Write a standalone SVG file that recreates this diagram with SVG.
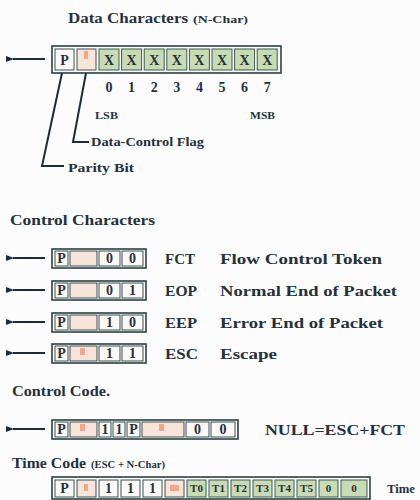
<svg xmlns="http://www.w3.org/2000/svg" width="420" height="500" viewBox="0 0 420 500">
<defs>
<marker id="ah" markerWidth="8" markerHeight="6" refX="1" refY="3" orient="auto" markerUnits="userSpaceOnUse">
<path d="M8,0 L0,3 L8,6 z" fill="#1e2c38"/>
</marker>
<style>
text{font-family:"Liberation Serif","DejaVu Serif",serif;font-weight:bold;fill:#24313c}
.t{font-size:15px}
.s{font-size:10px}
.c{font-size:14px;text-anchor:middle}
.o{fill:#fff;stroke:#2a4042;stroke-width:1.6}
.w{fill:#fbf8f6;stroke:#3a5050;stroke-width:1}
.p{fill:#f9e4da;stroke:#3a5050;stroke-width:1}
.g{fill:#c8dbb3;stroke:#3a5a52;stroke-width:1}
.m{fill:#f2a68c}
.ln{stroke:#1e2c38;stroke-width:2;fill:none}
</style>
</defs>
<rect width="420" height="500" fill="#fdfcfc"/>

<g id="title-data"><text x="68" y="23" class="t" textLength="120" lengthAdjust="spacingAndGlyphs">Data Characters</text><text x="193" y="23" class="s" textLength="55" lengthAdjust="spacingAndGlyphs">(N-Char)</text></g>

<g id="data-char">
<rect x="52" y="46" width="229" height="27" class="o"/>
<rect x="55" y="49" width="19" height="21" class="w"/>
<text x="64.5" y="65" class="c">P</text>
<rect x="77" y="49" width="19" height="21" class="p"/>
<rect x="84" y="51" width="4" height="8" class="m"/>
<rect x="99" y="49" width="20" height="21" class="g"/><text x="109" y="65" class="c">X</text>
<rect x="121.6" y="49" width="20" height="21" class="g"/><text x="131.6" y="65" class="c">X</text>
<rect x="144.2" y="49" width="20" height="21" class="g"/><text x="154.2" y="65" class="c">X</text>
<rect x="166.8" y="49" width="20" height="21" class="g"/><text x="176.8" y="65" class="c">X</text>
<rect x="189.4" y="49" width="20" height="21" class="g"/><text x="199.4" y="65" class="c">X</text>
<rect x="212" y="49" width="20" height="21" class="g"/><text x="222" y="65" class="c">X</text>
<rect x="234.6" y="49" width="20" height="21" class="g"/><text x="244.6" y="65" class="c">X</text>
<rect x="257.2" y="49" width="20" height="21" class="g"/><text x="267.2" y="65" class="c">X</text>
<text x="109" y="92" class="c">0</text>
<text x="131.6" y="92" class="c">1</text>
<text x="154.2" y="92" class="c">2</text>
<text x="176.8" y="92" class="c">3</text>
<text x="199.4" y="92" class="c">4</text>
<text x="222" y="92" class="c">5</text>
<text x="244.6" y="92" class="c">6</text>
<text x="267.2" y="92" class="c">7</text>
<text x="95" y="119" style="font-size:11px" textLength="23" lengthAdjust="spacingAndGlyphs">LSB</text>
<text x="250" y="119" style="font-size:11px" textLength="25" lengthAdjust="spacingAndGlyphs">MSB</text>
<text x="91" y="146" style="font-size:12px" textLength="113" lengthAdjust="spacingAndGlyphs">Data-Control Flag</text>
<text x="68" y="172" style="font-size:12px" textLength="66" lengthAdjust="spacingAndGlyphs">Parity Bit</text>
</g>

<g id="title-control"><text x="10" y="225" class="t" textLength="145" lengthAdjust="spacingAndGlyphs">Control Characters</text></g>

<g id="fct">
<rect x="52" y="249" width="94" height="19" class="o"/>
<rect x="55" y="251" width="13" height="15" class="w"/><text x="61.5" y="263" class="c">P</text>
<rect x="70" y="251" width="27" height="15" class="p"/>
<rect x="99" y="251" width="21" height="15" class="w"/><text x="109.5" y="263" class="c">0</text>
<rect x="122" y="251" width="21" height="15" class="w"/><text x="132.5" y="263" class="c">0</text>
<text x="165" y="264" class="t" textLength="30" lengthAdjust="spacingAndGlyphs">FCT</text>
<text x="220" y="264" class="t" textLength="162" lengthAdjust="spacingAndGlyphs">Flow Control Token</text>
</g>
<g id="eop">
<rect x="52" y="281" width="94" height="19" class="o"/>
<rect x="55" y="283" width="13" height="15" class="w"/><text x="61.5" y="295" class="c">P</text>
<rect x="70" y="283" width="27" height="15" class="p"/>
<rect x="99" y="283" width="21" height="15" class="w"/><text x="109.5" y="295" class="c">0</text>
<rect x="122" y="283" width="21" height="15" class="w"/><text x="132.5" y="295" class="c">1</text>
<text x="165" y="296" class="t" textLength="32" lengthAdjust="spacingAndGlyphs">EOP</text>
<text x="220" y="296" class="t" textLength="177" lengthAdjust="spacingAndGlyphs">Normal End of Packet</text>
</g>
<g id="eep">
<rect x="52" y="313" width="94" height="19" class="o"/>
<rect x="55" y="315" width="13" height="15" class="w"/><text x="61.5" y="327" class="c">P</text>
<rect x="70" y="315" width="27" height="15" class="p"/>
<rect x="99" y="315" width="21" height="15" class="w"/><text x="109.5" y="327" class="c">1</text>
<rect x="122" y="315" width="21" height="15" class="w"/><text x="132.5" y="327" class="c">0</text>
<text x="165" y="328" class="t" textLength="32" lengthAdjust="spacingAndGlyphs">EEP</text>
<text x="220" y="328" class="t" textLength="163" lengthAdjust="spacingAndGlyphs">Error End of Packet</text>
</g>
<g id="esc">
<rect x="52" y="344" width="94" height="19" class="o"/>
<rect x="55" y="346" width="13" height="15" class="w"/><text x="61.5" y="358" class="c">P</text>
<rect x="70" y="346" width="27" height="15" class="p"/>
<rect x="80" y="348" width="5" height="7" class="m"/>
<rect x="99" y="346" width="21" height="15" class="w"/><text x="109.5" y="358" class="c">1</text>
<rect x="122" y="346" width="21" height="15" class="w"/><text x="132.5" y="358" class="c">1</text>
<text x="165" y="359" class="t" textLength="33" lengthAdjust="spacingAndGlyphs">ESC</text>
<text x="220" y="359" class="t" textLength="57" lengthAdjust="spacingAndGlyphs">Escape</text>
</g>

<g id="title-code"><text x="12" y="396" class="t" textLength="98" lengthAdjust="spacingAndGlyphs">Control Code.</text></g>

<g id="null">
<rect x="52" y="420" width="186" height="19" class="o"/>
<rect x="55" y="422" width="13" height="15" class="w"/><text x="61.5" y="434" class="c">P</text>
<rect x="70" y="422" width="27" height="15" class="p"/>
<rect x="80" y="424" width="5" height="7" class="m"/>
<rect x="99" y="422" width="12" height="15" class="w"/><text x="105" y="434" class="c">1</text>
<rect x="113" y="422" width="12" height="15" class="w"/><text x="119" y="434" class="c">1</text>
<rect x="127" y="422" width="13" height="15" class="w"/><text x="133.5" y="434" class="c">P</text>
<rect x="142" y="422" width="42" height="15" class="p"/>
<rect x="159" y="424" width="5" height="7" class="m"/>
<rect x="186" y="422" width="23" height="15" class="w"/><text x="197.5" y="434" class="c">0</text>
<rect x="211" y="422" width="24" height="15" class="w"/><text x="223" y="434" class="c">0</text>
<text x="265" y="435" class="t" textLength="140" lengthAdjust="spacingAndGlyphs">NULL=ESC+FCT</text>
</g>

<g id="title-time"><text x="12" y="468" class="t" textLength="74" lengthAdjust="spacingAndGlyphs">Time Code</text><text x="91" y="468" class="s" textLength="74" lengthAdjust="spacingAndGlyphs">(ESC + N-Char)</text></g>

<g id="time">
<rect x="52" y="477" width="318" height="22" class="o"/>
<rect x="55" y="480" width="19" height="17" class="w"/><text x="64.5" y="493" class="c">P</text>
<rect x="77" y="480" width="19" height="17" class="p"/>
<rect x="84" y="484" width="4" height="7" class="m"/>
<rect x="99" y="480" width="19" height="17" class="w"/><text x="108.5" y="493" class="c">1</text>
<rect x="121" y="480" width="19" height="17" class="w"/><text x="130.5" y="493" class="c">1</text>
<rect x="143" y="480" width="19" height="17" class="w"/><text x="152.5" y="493" class="c">1</text>
<rect x="165" y="480" width="19" height="17" class="p"/>
<rect x="170" y="485" width="9" height="6" class="m"/>
<rect x="187" y="480" width="19" height="17" class="g"/><text x="196.5" y="492" class="c" style="font-size:11px">T0</text>
<rect x="209" y="480" width="19" height="17" class="g"/><text x="218.5" y="492" class="c" style="font-size:11px">T1</text>
<rect x="231" y="480" width="19" height="17" class="g"/><text x="240.5" y="492" class="c" style="font-size:11px">T2</text>
<rect x="253" y="480" width="19" height="17" class="g"/><text x="262.5" y="492" class="c" style="font-size:11px">T3</text>
<rect x="275" y="480" width="19" height="17" class="g"/><text x="284.5" y="492" class="c" style="font-size:11px">T4</text>
<rect x="297" y="480" width="19" height="17" class="g"/><text x="306.5" y="492" class="c" style="font-size:11px">T5</text>
<rect x="319" y="480" width="19" height="17" class="g"/><text x="328.5" y="492" class="c" style="font-size:11px">0</text>
<rect x="341" y="480" width="26" height="17" class="g"/><text x="354" y="492" class="c" style="font-size:11px">0</text>
<text x="387" y="493" style="font-size:12px" textLength="28" lengthAdjust="spacingAndGlyphs">Time</text>
</g>

<g id="connectors">
<line x1="45" y1="59" x2="13" y2="59" class="ln" marker-end="url(#ah)"/>
<line x1="45" y1="258" x2="13" y2="258" class="ln" marker-end="url(#ah)"/>
<line x1="45" y1="290" x2="13" y2="290" class="ln" marker-end="url(#ah)"/>
<line x1="45" y1="322" x2="13" y2="322" class="ln" marker-end="url(#ah)"/>
<line x1="45" y1="353" x2="13" y2="353" class="ln" marker-end="url(#ah)"/>
<line x1="45" y1="429" x2="13" y2="429" class="ln" marker-end="url(#ah)"/>
<polyline points="62,73 42,166 64,166" class="ln"/>
<polyline points="86,73 73,142 89,142" class="ln"/>
</g>
</svg>
